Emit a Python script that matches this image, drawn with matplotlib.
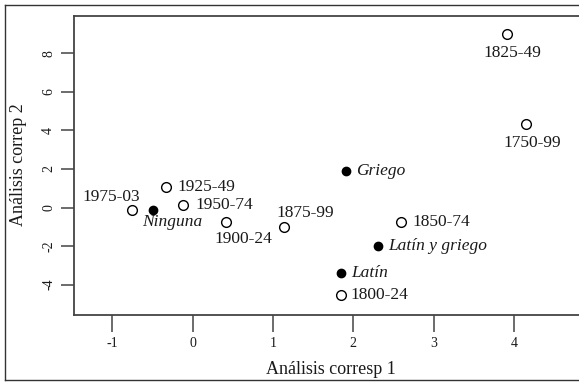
import matplotlib
matplotlib.use("Agg")
import matplotlib.pyplot as plt
from matplotlib.lines import Line2D

# ---- data ----
period_labels = ["1975-03", "1925-49", "1950-74", "1900-24", "1875-99",
                 "1825-49", "1750-99", "1850-74", "1800-24"]
period_x = [-0.755, -0.33, -0.12, 0.42, 1.14, 3.91, 4.15, 2.59, 1.85]
period_y = [-0.13, 1.06, 0.13, -0.75, -1.01, 8.99, 4.33, -0.75, -4.54]

lang_labels = ["Ninguna", "Griego", "Latín y griego", "Latín"]
lang_x = [-0.49, 1.91, 2.31, 1.85]
lang_y = [-0.13, 1.89, -2.0, -3.4]

x_ticks = [-1, 0, 1, 2, 3, 4]
y_ticks = [-4, -2, 0, 2, 4, 6, 8]
x_title = "Análisis corresp 1"
y_title = "Análisis correp 2"

# ---- label placement (offsets in pixels, alignment) ----
period_offsets = {
    "1975-03": (-21, 13, "center"),
    "1925-49": (11, 0, "left"),
    "1950-74": (12, 0, "left"),
    "1900-24": (17, -17, "center"),
    "1875-99": (21, 14, "center"),
    "1825-49": (6, -19, "center"),
    "1750-99": (6, -19, "center"),
    "1850-74": (12, 0, "left"),
    "1800-24": (9, 0, "left"),
}
lang_offsets = {
    "Ninguna": (19, -12, "center"),
    "Griego": (10, 0, "left"),
    "Latín y griego": (10, 0, "left"),
    "Latín": (10, 0, "left"),
}

plt.rcParams["font.family"] = ["Liberation Serif", "DejaVu Serif"]

W, H = 579, 382
fig = plt.figure(figsize=(W / 100, H / 100), dpi=100)
ax = fig.add_axes([74 / W, (H - 315) / H, (588 - 74) / W, 299 / H])

xl = (74 - 192.6) / 80.3
xr = (588 - 192.6) / 80.3
yt = (207.5 - 16) / 19.29
yb = (207.5 - 315) / 19.29
ax.set_xlim(xl, xr)
ax.set_ylim(yb, yt)

spine_col = "#444444"
for s in ["left", "bottom", "top"]:
    ax.spines[s].set_color(spine_col)
    ax.spines[s].set_linewidth(1.3)
ax.spines["right"].set_visible(False)

ax.plot(period_x, period_y, linestyle="none", marker="o", markersize=7,
        markerfacecolor="white", markeredgecolor="black", markeredgewidth=1.0)
ax.plot(lang_x, lang_y, linestyle="none", marker="o", markersize=6,
        markerfacecolor="black", markeredgecolor="black")

fs = 12.5
for lab, x, y in zip(period_labels, period_x, period_y):
    dx, dy, ha = period_offsets[lab]
    ax.annotate(lab, (x, y), xytext=(dx, dy), textcoords="offset pixels",
                ha=ha, va="center", fontsize=fs, color="#1a1a1a")
for lab, x, y in zip(lang_labels, lang_x, lang_y):
    dx, dy, ha = lang_offsets[lab]
    ax.annotate(lab, (x, y), xytext=(dx, dy), textcoords="offset pixels",
                ha=ha, va="center", fontsize=fs, style="italic", color="#1a1a1a")

ax.set_xticks(x_ticks)
ax.set_xticklabels([str(t) for t in x_ticks])
ax.set_yticks(y_ticks)
ax.set_yticklabels([str(t) for t in y_ticks], rotation=90, va="center")
ax.tick_params(axis="x", direction="out", length=12, width=1.1, color=spine_col,
               pad=4, labelsize=10, labelcolor="#1a1a1a")
ax.tick_params(axis="y", direction="out", length=9.5, width=1.1, color=spine_col,
               pad=4, labelsize=10, labelcolor="#1a1a1a")

ax.set_xlabel(x_title, fontsize=13, va="center", color="#1a1a1a")
ax.xaxis.set_label_coords(0.5, (315 - 370) / 299)
ax.set_ylabel(y_title, fontsize=13, va="center", ha="center", color="#1a1a1a")
ax.yaxis.set_label_coords((19 - 74) / 514, 0.5 - (165 - 165.5) / 299)

# outer frame (left, top, bottom; right side cropped)
fc = "#333333"
x0 = 4.5 / W
ytop = 1 - 5 / H
ybot = 1 - 380 / H
fig.add_artist(Line2D([x0, x0], [ybot, ytop], transform=fig.transFigure, color=fc, lw=1.0))
fig.add_artist(Line2D([x0, 1.0], [ytop, ytop], transform=fig.transFigure, color=fc, lw=1.0))
fig.add_artist(Line2D([x0, 1.0], [ybot, ybot], transform=fig.transFigure, color=fc, lw=1.0))

fig.savefig("out.png", dpi=100)
